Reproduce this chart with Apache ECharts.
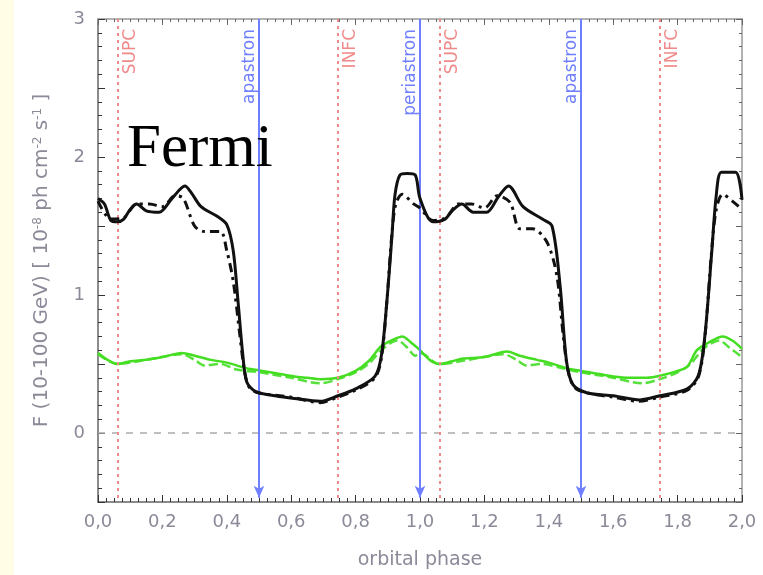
<!DOCTYPE html>
<html>
<head>
<meta charset="utf-8">
<script src="https://cdn.jsdelivr.net/npm/echarts@6/dist/echarts.min.js"></script>
<style>
html,body{margin:0;padding:0;background:#fff;}
#container1{width:763px;height:575px;}
</style>
</head>
<body>
<div id="container1"></div>
<script>
// solid black curve
var blackPhase = [0.00,0.02,0.04,0.06,0.08,0.10,0.12,0.15,0.19,0.23,0.27,0.29,0.32,0.37,0.40,0.42,0.435,0.45,0.462,0.49,0.55,0.61,0.69,0.745,0.80,0.86,0.88,0.897,0.913,0.922,0.938,0.96,0.985,1.00,1.04,1.078,1.10,1.13,1.165,1.207,1.243,1.275,1.32,1.38,1.41,1.435,1.455,1.475,1.52,1.60,1.683,1.745,1.83,1.865,1.885,1.906,1.92,1.936,1.98,2.00];
var blackFlux  = [1.70,1.66,1.54,1.53,1.55,1.62,1.66,1.61,1.60,1.70,1.79,1.74,1.64,1.57,1.51,1.32,0.95,0.56,0.37,0.30,0.27,0.25,0.23,0.27,0.32,0.41,0.56,0.95,1.43,1.72,1.87,1.88,1.87,1.70,1.53,1.55,1.61,1.66,1.60,1.60,1.71,1.79,1.64,1.55,1.50,1.07,0.52,0.35,0.29,0.27,0.24,0.27,0.32,0.42,0.71,1.31,1.72,1.89,1.89,1.69];
// dash-dot black curve
var blackDashPhase = [0.00,0.04,0.08,0.12,0.16,0.20,0.24,0.265,0.30,0.33,0.38,0.40,0.42,0.44,0.455,0.47,0.50,0.60,0.69,0.745,0.80,0.86,0.88,0.897,0.913,0.925,0.945,0.98,1.00,1.04,1.08,1.12,1.16,1.20,1.24,1.28,1.31,1.35,1.395,1.425,1.445,1.46,1.48,1.52,1.60,1.68,1.745,1.83,1.865,1.885,1.905,1.92,1.94,1.97,2.00];
var blackDashFlux  = [1.68,1.55,1.56,1.66,1.66,1.64,1.72,1.70,1.50,1.46,1.46,1.32,1.10,0.72,0.45,0.33,0.29,0.26,0.22,0.26,0.31,0.40,0.54,0.95,1.45,1.66,1.73,1.66,1.63,1.54,1.56,1.66,1.66,1.63,1.72,1.67,1.48,1.48,1.38,1.14,0.70,0.45,0.33,0.29,0.26,0.23,0.26,0.31,0.41,0.70,1.30,1.62,1.73,1.68,1.62];
// green solid curve
var greenPhase = [0.00,0.03,0.06,0.10,0.15,0.20,0.26,0.30,0.35,0.40,0.46,0.51,0.56,0.61,0.65,0.69,0.745,0.80,0.84,0.88,0.92,0.945,0.97,1.00,1.03,1.06,1.10,1.134,1.20,1.27,1.31,1.363,1.40,1.455,1.50,1.55,1.60,1.65,1.705,1.755,1.80,1.83,1.86,1.90,1.94,1.97,2.00];
var greenFlux  = [0.58,0.53,0.50,0.52,0.53,0.55,0.58,0.56,0.53,0.51,0.47,0.45,0.43,0.41,0.40,0.39,0.40,0.45,0.52,0.63,0.68,0.70,0.66,0.60,0.53,0.50,0.52,0.54,0.55,0.59,0.56,0.53,0.51,0.47,0.45,0.43,0.41,0.40,0.40,0.42,0.45,0.48,0.60,0.66,0.70,0.67,0.61];
// green dashed curve
var greenDashPhase = [0.00,0.06,0.15,0.26,0.30,0.33,0.38,0.43,0.50,0.60,0.69,0.745,0.80,0.84,0.88,0.93,0.96,0.985,1.00,1.06,1.15,1.26,1.30,1.33,1.38,1.44,1.50,1.60,1.69,1.745,1.80,1.84,1.88,1.93,1.96,2.00];
var greenDashFlux  = [0.57,0.50,0.53,0.57,0.53,0.49,0.50,0.46,0.44,0.40,0.36,0.39,0.44,0.50,0.60,0.67,0.62,0.56,0.58,0.50,0.53,0.57,0.53,0.49,0.50,0.47,0.44,0.40,0.36,0.39,0.44,0.50,0.61,0.67,0.62,0.55];

// orbital events
var eventPhases = [0.062,0.5,0.745,1.0,1.062,1.5,1.745];
var eventNames  = ['SUPC','apastron','INFC','periastron','SUPC','apastron','INFC'];
var eventKinds  = ['conj','orbit','conj','orbit','conj','orbit','conj'];

var yTickLabels = ['0','1','2','3'];

function pairs(xs, ys){
    var out = [];
    for (var i = 0; i < xs.length; i++) out.push([xs[i], ys[i]]);
    return out;
}

var myChart = echarts.init(document.getElementById('container1'));
initChart();

function initChart(){

var textColor = '#8a8a98';
var redColor = '#f08a8a';
var blueColor = '#6f7fff';

var markData = [[
    {coord:[0,0], symbol:'none', lineStyle:{color:'#aaaaaa', type:[7,7], width:1.5}},
    {coord:[2,0], symbol:'none'}
]];
for (var i = 0; i < eventPhases.length; i++){
    if (eventKinds[i] == 'conj'){
        markData.push([
            {coord:[eventPhases[i],3], symbol:'none', lineStyle:{color:redColor, type:[3,4], width:2}},
            {coord:[eventPhases[i],-0.5], symbol:'none'}
        ]);
    } else {
        markData.push([
            {coord:[eventPhases[i],3], symbol:'none', lineStyle:{color:blueColor, type:'solid', width:2}},
            {coord:[eventPhases[i],-0.47], symbol:'arrow', symbolSize:[8,12]}
        ]);
    }
}

var tickStyle = {color:'#333', width:1};
var option = {
    animation: false,
    grid: {left:98, right:21, top:19, bottom:70},
    xAxis: [{
        type:'value', min:0, max:2, interval:0.2,
        name:'orbital phase', nameLocation:'middle', nameGap:49,
        nameTextStyle:{color:textColor, fontSize:19, fontFamily:'DejaVu Sans'},
        axisLine:{show:true, onZero:false, lineStyle:{color:'#666', width:1.5}},
        axisTick:{show:true, inside:true, length:7, lineStyle:tickStyle},
        minorTick:{show:true, splitNumber:8, length:4, lineStyle:tickStyle},
        splitLine:{show:false},
        axisLabel:{color:textColor, fontSize:18, fontFamily:'DejaVu Sans', margin:11,
            formatter:function(v){ return v.toFixed(1).replace('.', ','); }}
    },{
        type:'value', min:0, max:2, interval:0.2, position:'top',
        axisLine:{show:true, onZero:false, lineStyle:{color:'#999', width:1.5}},
        axisTick:{show:true, inside:true, length:6, lineStyle:{color:'#666'}},
        minorTick:{show:true, splitNumber:8, length:3, lineStyle:{color:'#666'}},
        splitLine:{show:false},
        axisLabel:{show:false}
    }],
    yAxis: [{
        type:'value', min:-0.5, max:3, interval:0.5,
        name:'F (10-100 GeV) [ 10{sup|-8} ph cm{sup|-2} s{sup|-1} ]',
        nameLocation:'middle', nameGap:46,
        nameTextStyle:{color:textColor, fontSize:20, fontFamily:'DejaVu Sans',
            rich:{sup:{fontSize:12, verticalAlign:'top', color:textColor, padding:[0,0,8,0]}}},
        axisLine:{show:true, onZero:false, lineStyle:{color:'#666', width:1.5}},
        axisTick:{show:true, inside:true, length:7, lineStyle:tickStyle,
            interval:function(idx, val){ return Math.abs(val - Math.round(val)) < 1e-6; }},
        minorTick:{show:true, splitNumber:5, length:4, lineStyle:tickStyle},
        splitLine:{show:false},
        axisLabel:{color:textColor, fontSize:18, fontFamily:'DejaVu Sans', margin:13,
            formatter:function(v){
                var s = String(Math.round(v));
                return (Math.abs(v - Math.round(v)) < 1e-6 && yTickLabels.indexOf(s) >= 0) ? s : '';
            }}
    },{
        type:'value', min:-0.5, max:3, interval:0.5, position:'right',
        axisLine:{show:true, onZero:false, lineStyle:{color:'#999', width:1.5}},
        axisTick:{show:true, inside:true, length:6, lineStyle:{color:'#666'},
            interval:function(idx, val){ return Math.abs(val - Math.round(val)) < 1e-6; }},
        minorTick:{show:true, splitNumber:5, length:3, lineStyle:{color:'#666'}},
        splitLine:{show:false},
        axisLabel:{show:false}
    }],
    series: [{
        name:'markers', type:'line', data:[], z:1,
        markLine:{silent:true, animation:false, label:{show:false}, symbol:['none','none'], data:markData}
    },{
        name:'green dashed', type:'line', data:pairs(greenDashPhase, greenDashFlux),
        showSymbol:false, smooth:0.3, z:3,
        lineStyle:{color:'#55e03a', width:2.5, type:[9,4]}
    },{
        name:'green', type:'line', data:pairs(greenPhase, greenFlux),
        showSymbol:false, smooth:0.3, z:4,
        lineStyle:{color:'#44dd22', width:2.5}
    },{
        name:'black dash-dot', type:'line', data:pairs(blackDashPhase, blackDashFlux),
        showSymbol:false, smooth:0.3, z:5,
        lineStyle:{color:'#111', width:3, type:[9,5,3,5]}
    },{
        name:'black', type:'line', data:pairs(blackPhase, blackFlux),
        showSymbol:false, smooth:0.3, z:6,
        lineStyle:{color:'#111', width:3}
    }]
};
myChart.setOption(option);

// event labels + overlay text
var g = [{
    type:'rect', shape:{x:0, y:0, width:14, height:575}, style:{fill:'#fffde6'}, z:0
},{
    type:'text', x:127, y:150, z:20,
    style:{text:'Fermi', fill:'#000', font:'61px "Liberation Serif"', verticalAlign:'middle', align:'left'}
}];
for (var j = 0; j < eventPhases.length; j++){
    var p = myChart.convertToPixel({xAxisIndex:0, yAxisIndex:0}, [eventPhases[j], 3]);
    var isConj = eventKinds[j] == 'conj';
    g.push({
        type:'text', x: isConj ? p[0] + 13 : p[0] - 9, y: p[1] + 10, rotation: Math.PI / 2, z:10,
        style:{text:eventNames[j], fill: isConj ? redColor : blueColor,
            font:'17px "DejaVu Sans"', align:'right', verticalAlign:'middle'}
    });
}
myChart.setOption({graphic:g});
}
</script>
</body>
</html>
